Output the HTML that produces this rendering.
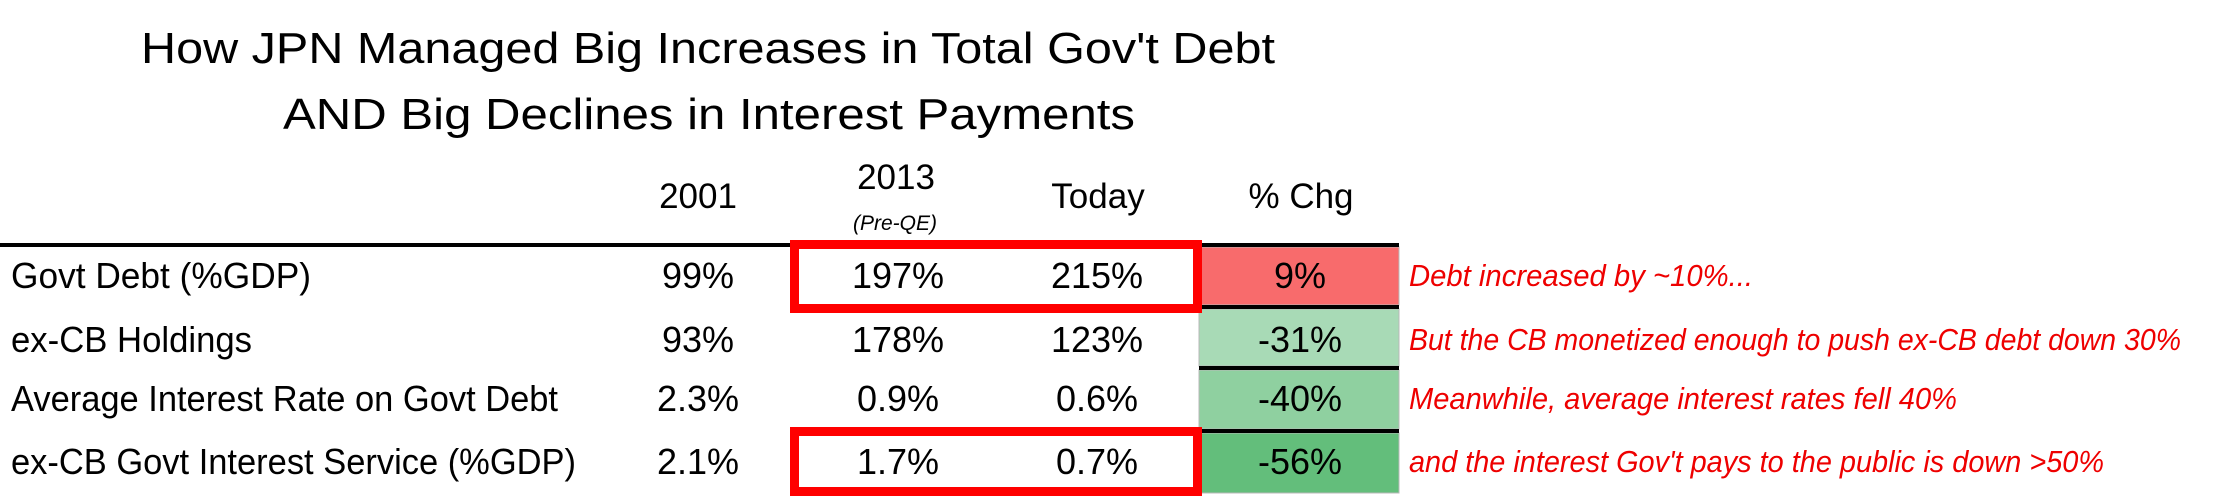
<!DOCTYPE html>
<html><head><meta charset="utf-8"><style>
html,body{margin:0;padding:0;background:#fff;}
svg{display:block;font-family:"Liberation Sans",Arial,sans-serif;}
</style></head><body>
<svg id="chart" width="2232" height="497" viewBox="0 0 2232 497" xmlns="http://www.w3.org/2000/svg">
</svg>
<script>
const rowLabels = ["Govt Debt (%GDP)","ex-CB Holdings","Average Interest Rate on Govt Debt","ex-CB Govt Interest Service (%GDP)"];
const labelWidths = [300,241,547,565];
const vals2001 = ["99%","93%","2.3%","2.1%"];
const vals2013 = ["197%","178%","0.9%","1.7%"];
const valsToday = ["215%","123%","0.6%","0.7%"];
const pctChg = ["9%","-31%","-40%","-56%"];
const chgColors = ["#f86b6c","#a8dab6","#8fd0a0","#63be7b"];
const notes = ["Debt increased by ~10%...","But the CB monetized enough to push ex-CB debt down 30%","Meanwhile, average interest rates fell 40%","and the interest Gov't pays to the public is down >50%"];
const noteWidths = [344,772,548,695];

const svg = document.getElementById('chart');
const NS = "http://www.w3.org/2000/svg";
function mk(tag, attrs, text){
  const e = document.createElementNS(NS, tag);
  for (const k in attrs) e.setAttribute(k, attrs[k]);
  if (text !== undefined) e.textContent = text;
  svg.appendChild(e);
  return e;
}
// geometry
const cellTop = [247,309,370,433];
const cellBot = [305,366,429,493];
const baselines = [288,352,411,474];

// title
let t = mk('text',{x:708,y:63,'font-size':44,'text-anchor':'middle',textLength:1134,lengthAdjust:'spacingAndGlyphs',fill:'#000'},"How JPN Managed Big Increases in Total Gov't Debt");


t = mk('text',{x:709,y:129,'font-size':44,'text-anchor':'middle',textLength:852,lengthAdjust:'spacingAndGlyphs',fill:'#000'},"AND Big Declines in Interest Payments");



// headers
const hdr = [["2001",698,208],["2013",896,189],["Today",1098,208],["% Chg",1301,208]];
hdr.forEach(h=>{
  const e = mk('text',{x:h[1],y:h[2],'font-size':35,'text-anchor':'middle',fill:'#000'},h[0]);
  
  
});
t = mk('text',{x:895,y:230,'font-size':21,'font-style':'italic','text-anchor':'middle',fill:'#000'},"(Pre-QE)");



// %chg cells
for (let i=0;i<4;i++){
  const r = mk('rect',{x:1199,y:cellTop[i],width:200,height:cellBot[i]-cellTop[i],fill:chgColors[i],stroke:'#b8b8b8','stroke-width':1});
  
  
}
// black lines
const line = (x1,x2,y1,y2)=>{const r=mk('rect',{x:x1,y:y1,width:x2-x1,height:y2-y1,fill:'#000'});
  
  };
line(0,1399,243,247);
line(1199,1399,305,309);
line(1199,1399,366,370);
line(1199,1399,429,433);

// red boxes
[[240,313],[427,496]].forEach((b,i)=>{
  const r = mk('rect',{x:794.5,y:b[0]+4.5,width:403,height:b[1]-b[0]-9,fill:'none',stroke:'#ff0000','stroke-width':9});
  
  
});

// rows
for (let i=0;i<4;i++){
  const y = baselines[i];
  let e = mk('text',{x:11,y:y,'font-size':36,textLength:labelWidths[i],lengthAdjust:'spacingAndGlyphs',fill:'#000'},rowLabels[i]);
  
  
  [[vals2001,698],[vals2013,898],[valsToday,1097],[pctChg,1300]].forEach(c=>{
    const v = mk('text',{x:c[1],y:y,'font-size':36,'text-anchor':'middle',fill:'#000'},c[0][i]);
    
    
  });
  e = mk('text',{x:1409,y:y-2,'font-size':31,'font-style':'italic',textLength:noteWidths[i],lengthAdjust:'spacingAndGlyphs',fill:'#ee0000'},notes[i]);
  
  
}
</script>
</body></html>
